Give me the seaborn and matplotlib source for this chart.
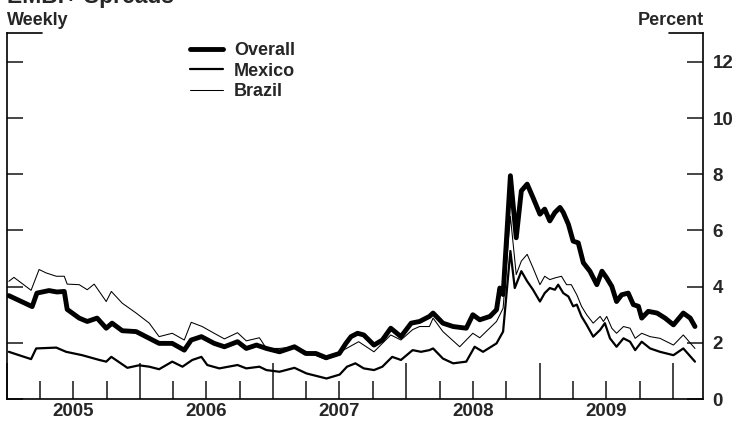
import pandas as pd
import matplotlib
matplotlib.use("Agg")
import matplotlib.pyplot as plt
import matplotlib.dates as mdates
from matplotlib.ticker import FuncFormatter, FixedLocator
import seaborn as sns

# --- données (spreads EMBI+, en %) ---
overall_dates = [
    "2005-01-06", "2005-03-11", "2005-03-24", "2005-04-26", "2005-05-18", "2005-06-07",
    "2005-06-15", "2005-07-18", "2005-08-09", "2005-09-05", "2005-09-30", "2005-10-16",
    "2005-11-13", "2005-12-21", "2006-01-26", "2006-02-22", "2006-03-30", "2006-05-02",
    "2006-05-21", "2006-06-18", "2006-07-23", "2006-08-20", "2006-09-25", "2006-10-19",
    "2006-11-16", "2006-12-13", "2007-01-18", "2007-02-28", "2007-03-31", "2007-04-28",
    "2007-05-26", "2007-07-01", "2007-07-19", "2007-08-02", "2007-08-20", "2007-09-06",
    "2007-10-04", "2007-10-27", "2007-11-19", "2007-12-17", "2008-01-14", "2008-02-06",
    "2008-03-04", "2008-03-14", "2008-04-10", "2008-05-08", "2008-06-13", "2008-07-01",
    "2008-07-20", "2008-08-17", "2008-09-04", "2008-09-13", "2008-09-22", "2008-10-12",
    "2008-10-28", "2008-11-11", "2008-11-27", "2008-12-13", "2009-01-01", "2009-01-14",
    "2009-01-28", "2009-02-11", "2009-02-25", "2009-03-06", "2009-03-20", "2009-04-02",
    "2009-04-16", "2009-04-30", "2009-05-18", "2009-06-06", "2009-06-20", "2009-07-03",
    "2009-07-17", "2009-07-30", "2009-08-13", "2009-08-31", "2009-09-14", "2009-09-28",
    "2009-10-07", "2009-10-25", "2009-11-18", "2009-12-10", "2010-01-02", "2010-01-29",
    "2010-02-17", "2010-03-02",
]
overall_vals = [
    3.68, 3.29, 3.77, 3.86, 3.81, 3.83,
    3.19, 2.88, 2.76, 2.88, 2.52, 2.70,
    2.43, 2.40, 2.16, 1.98, 1.98, 1.74,
    2.10, 2.22, 1.98, 1.86, 2.04, 1.80,
    1.92, 1.80, 1.68, 1.86, 1.62, 1.62,
    1.47, 1.62, 1.98, 2.22, 2.34, 2.28,
    1.92, 2.10, 2.52, 2.22, 2.70, 2.76,
    2.94, 3.06, 2.70, 2.58, 2.52, 3.00,
    2.82, 2.94, 3.18, 3.95, 3.72, 7.95,
    5.74, 7.41, 7.65, 7.17, 6.58, 6.76,
    6.34, 6.64, 6.82, 6.64, 6.22, 5.62,
    5.56, 4.85, 4.55, 4.07, 4.55, 4.31,
    4.01, 3.47, 3.71, 3.77, 3.36, 3.30,
    2.88, 3.12, 3.06, 2.88, 2.64, 3.06,
    2.88, 2.58,
]

mexico_dates = [
    "2005-01-06", "2005-02-03", "2005-03-08", "2005-03-22", "2005-05-16", "2005-06-12",
    "2005-07-26", "2005-09-11", "2005-09-30", "2005-10-14", "2005-11-27", "2005-12-29",
    "2006-01-26", "2006-02-22", "2006-03-30", "2006-04-27", "2006-05-24", "2006-06-18",
    "2006-07-04", "2006-08-06", "2006-09-25", "2006-10-19", "2006-11-24", "2006-12-13",
    "2007-01-18", "2007-02-28", "2007-04-02", "2007-05-27", "2007-07-02", "2007-07-22",
    "2007-08-14", "2007-09-06", "2007-10-04", "2007-10-27", "2007-11-23", "2007-12-17",
    "2008-01-18", "2008-02-10", "2008-03-04", "2008-03-14", "2008-04-10", "2008-05-08",
    "2008-06-13", "2008-07-06", "2008-07-29", "2008-09-04", "2008-09-22", "2008-10-12",
    "2008-10-24", "2008-11-11", "2008-11-27", "2008-12-13", "2009-01-01", "2009-01-14",
    "2009-01-28", "2009-02-11", "2009-02-20", "2009-03-06", "2009-03-20", "2009-04-02",
    "2009-04-12", "2009-04-25", "2009-05-09", "2009-05-27", "2009-06-15", "2009-06-28",
    "2009-07-12", "2009-07-30", "2009-08-18", "2009-09-05", "2009-09-19", "2009-10-07",
    "2009-10-30", "2009-11-26", "2010-01-02", "2010-01-29", "2010-03-02",
]
mexico_vals = [
    1.68, 1.56, 1.42, 1.80, 1.83, 1.68,
    1.56, 1.39, 1.33, 1.50, 1.11, 1.20,
    1.15, 1.06, 1.33, 1.15, 1.39, 1.50,
    1.21, 1.09, 1.21, 1.09, 1.15, 1.03,
    0.97, 1.11, 0.91, 0.73, 0.87, 1.15,
    1.27, 1.09, 1.03, 1.15, 1.50, 1.39,
    1.74, 1.68, 1.74, 1.80, 1.44, 1.27,
    1.33, 1.86, 1.68, 1.98, 2.40, 5.27,
    3.95, 4.55, 4.19, 3.89, 3.47, 3.77,
    3.95, 3.89, 4.07, 3.77, 3.65, 3.30,
    3.36, 2.94, 2.64, 2.22, 2.46, 2.70,
    2.16, 1.86, 2.16, 2.04, 1.74, 2.04,
    1.80, 1.68, 1.56, 1.80, 1.33,
]

brazil_dates = [
    "2005-01-06", "2005-01-20", "2005-03-08", "2005-03-30", "2005-04-18", "2005-05-16",
    "2005-06-07", "2005-06-15", "2005-07-18", "2005-08-09", "2005-08-28", "2005-09-30",
    "2005-10-14", "2005-11-13", "2005-12-21", "2006-01-26", "2006-02-22", "2006-03-30",
    "2006-05-02", "2006-05-21", "2006-06-20", "2006-07-23", "2006-08-20", "2006-09-25",
    "2006-10-19", "2006-11-24", "2006-12-13", "2007-01-18", "2007-02-28", "2007-05-26",
    "2007-08-23", "2007-10-04", "2007-11-19", "2007-12-17", "2008-01-18", "2008-02-06",
    "2008-03-04", "2008-03-14", "2008-04-10", "2008-05-26", "2008-07-01", "2008-07-20",
    "2008-09-04", "2008-09-22", "2008-10-12", "2008-10-28", "2008-11-11", "2008-11-27",
    "2008-12-13", "2009-01-01", "2009-01-14", "2009-01-28", "2009-02-11", "2009-03-01",
    "2009-03-15", "2009-03-28", "2009-04-12", "2009-04-25", "2009-05-09", "2009-05-27",
    "2009-06-15", "2009-06-24", "2009-07-03", "2009-07-17", "2009-07-30", "2009-08-18",
    "2009-09-05", "2009-09-19", "2009-10-07", "2009-10-30", "2009-11-26", "2010-01-02",
    "2010-01-29", "2010-03-02",
]
brazil_vals = [
    4.19, 4.33, 3.87, 4.61, 4.49, 4.37,
    4.37, 4.09, 4.07, 3.89, 4.09, 3.47,
    3.83, 3.41, 3.06, 2.70, 2.22, 2.34,
    2.10, 2.73, 2.58, 2.34, 2.14, 2.36,
    2.07, 2.18, 1.80, 1.80, 1.86, 1.40,
    2.04, 1.68, 2.28, 2.10, 2.47, 2.58,
    2.58, 2.88, 2.40, 1.86, 2.34, 2.18,
    2.76, 3.23, 6.50, 4.43, 4.91, 5.15,
    4.67, 4.07, 4.37, 4.25, 4.31, 4.37,
    4.07, 4.07, 3.71, 3.30, 3.00, 2.70,
    2.94, 2.76, 2.94, 2.52, 2.34, 2.58,
    2.52, 2.16, 2.34, 2.22, 2.16, 1.92,
    2.28, 1.80,
]

series = [
    ("Overall", overall_dates, overall_vals, 3.5),
    ("Mexico", mexico_dates, mexico_vals, 1.6),
    ("Brazil", brazil_dates, brazil_vals, 0.75),
]

sns.set_theme(style="white")
plt.rcParams["font.family"] = ["Liberation Sans", "DejaVu Sans"]
plt.rcParams["font.weight"] = "bold"

W, H = 732, 425
fig = plt.figure(figsize=(W / 100, H / 100), dpi=100)
ax = fig.add_axes([7 / W, (H - 399) / H, (703 - 7) / W, (399 - 33) / H])

for name, d, v, lw in series:
    df = pd.DataFrame({"date": pd.to_datetime(d), "value": v})
    sns.lineplot(data=df, x="date", y="value", ax=ax, color="black",
                 linewidth=lw, label=name, estimator=None)

ax.set_xlim(pd.Timestamp("2005-01-01"), pd.Timestamp("2010-03-24"))
ax.set_ylim(0, 13.03)
ax.set_xlabel("")
ax.set_ylabel("")

# axe x : grands traits aux changements d'année, petits aux trimestres
ax.xaxis.set_major_locator(mdates.YearLocator())
ax.xaxis.set_major_formatter(FuncFormatter(lambda x, p: ""))
ax.xaxis.set_minor_locator(mdates.MonthLocator(bymonth=[4, 7, 10]))
ax.xaxis.set_minor_formatter(FuncFormatter(
    lambda x, p: str(mdates.num2date(x).year) if mdates.num2date(x).month == 7 else ""))
ax.tick_params(axis="x", which="major", direction="in", length=26, width=1.2,
               bottom=True, top=False)
ax.tick_params(axis="x", which="minor", direction="in", length=13, width=1.2,
               bottom=True, top=False, pad=3, labelsize=13.5)

# axe y : traits des deux côtés, étiquettes à droite
ax.yaxis.set_major_locator(FixedLocator([0, 2, 4, 6, 8, 10, 12]))
ax.tick_params(axis="y", direction="in", length=11.5, width=1.2, left=True, right=True,
               labelleft=False, labelright=True, pad=7, labelsize=13.5)
for lab in ax.get_xticklabels(which="minor") + ax.get_yticklabels():
    lab.set_fontweight("bold")

for s in ["left", "right", "bottom"]:
    ax.spines[s].set_color("black")
    ax.spines[s].set_linewidth(1.2)
ax.spines["top"].set_visible(False)
# bout de cadre en haut, aux deux coins
ax.plot([0, 0.05], [1, 1], transform=ax.transAxes, color="black", lw=1.2, clip_on=False)
ax.plot([0.951, 1], [1, 1], transform=ax.transAxes, color="black", lw=1.2, clip_on=False)

leg = ax.legend(loc="upper left", bbox_to_anchor=(190 / W, 1 - 42 / H),
                bbox_transform=fig.transFigure, frameon=False, fontsize=13,
                handlelength=1.83, handletextpad=0.6, labelspacing=0.2,
                borderpad=0, borderaxespad=0)
for t in leg.get_texts():
    t.set_fontweight("bold")

fig.text(7 / W, 1 - 3 / H, "EMBI+ Spreads", fontsize=16.5, fontweight="bold",
         ha="left", va="baseline")
fig.text(7 / W, 1 - 25 / H, "Weekly", fontsize=13, fontweight="bold",
         ha="left", va="baseline")
fig.text(704 / W, 1 - 25 / H, "Percent", fontsize=13, fontweight="bold",
         ha="right", va="baseline")

fig.savefig("out.png", dpi=100)
